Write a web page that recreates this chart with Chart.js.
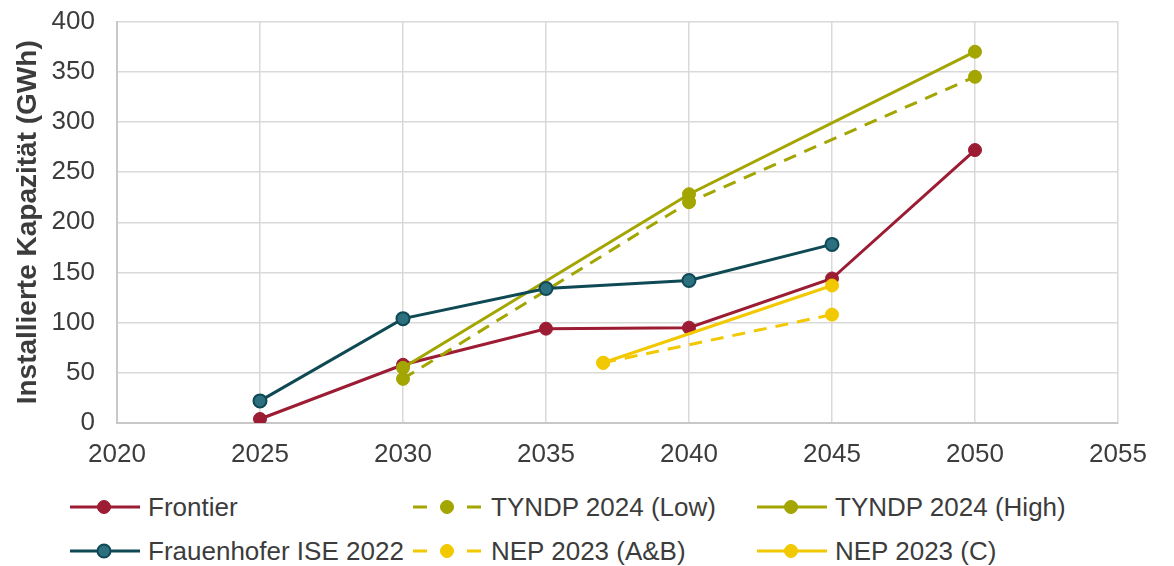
<!DOCTYPE html>
<html lang="de">
<head>
<meta charset="utf-8">
<title>Installierte Kapazität</title>
<script src="https://cdn.jsdelivr.net/npm/chart.js@4.4.1/dist/chart.umd.min.js"></script>
<style>
  html, body { margin: 0; padding: 0; background: #ffffff; }
  #wrap { position: relative; width: 1174px; height: 566px; overflow: hidden; font-family: "Liberation Sans", Arial, sans-serif; }
  #chart { position: absolute; left: 0; top: -16px; }
  .lg { position: absolute; height: 30px; display: flex; align-items: center; font-size: 26px; color: #3c3c3c; white-space: nowrap; }
  .lg svg { flex: none; }
  .lg span { margin-left: 8px; }
</style>
</head>
<body>
<div id="wrap">
  <canvas id="chart" width="1174" height="496"></canvas>
  <div id="legend"></div>
</div>
<script>
// Series values (GWh) per scenario, keyed by year
const frontierYears = [2025, 2030, 2035, 2040, 2045, 2050];
const frontierValues = [4, 58, 94, 95, 144, 272];

const fraunhoferYears = [2025, 2030, 2035, 2040, 2045];
const fraunhoferValues = [22, 104, 134, 142, 178];

const tyndpYears = [2030, 2040, 2050];
const tyndpLowValues = [44, 220, 345];
const tyndpHighValues = [55, 228, 370];

const nepYears = [2037, 2045];
const nepABValues = [60, 108];
const nepCValues = [60, 137];

const seriesLabels = [
  'Frontier',
  'TYNDP 2024 (Low)',
  'TYNDP 2024 (High)',
  'Frauenhofer ISE 2022',
  'NEP 2023 (A&B)',
  'NEP 2023 (C)'
];

const xTicks = [2020, 2025, 2030, 2035, 2040, 2045, 2050, 2055];
const yTicks = [0, 50, 100, 150, 200, 250, 300, 350, 400];

const RED = '#9C1C33';
const TEAL = '#0E4954';
const TEAL_FILL = '#2C6F7E';
const OLIVE = '#A3A500';
const YELLOW = '#F2C800';

function pts(xs, ys) { return xs.map((x, i) => ({ x: x, y: ys[i] })); }

function series(label, data, color, opts) {
  return Object.assign({
    label: label,
    data: data,
    borderColor: color,
    backgroundColor: color,
    pointBackgroundColor: color,
    pointBorderColor: color,
    borderWidth: 3,
    pointRadius: 6.5,
    pointBorderWidth: 1,
    pointHoverRadius: 6.5,
    tension: 0,
    fill: false
  }, opts || {});
}

const datasets = [
  series(seriesLabels[0], pts(frontierYears, frontierValues), RED, { order: 6 }),
  series(seriesLabels[1], pts(tyndpYears, tyndpLowValues), OLIVE, { borderDash: [13, 9], order: 5 }),
  series(seriesLabels[2], pts(tyndpYears, tyndpHighValues), OLIVE, { order: 4 }),
  series(seriesLabels[3], pts(fraunhoferYears, fraunhoferValues), TEAL, { pointBackgroundColor: TEAL_FILL, pointBorderColor: TEAL, pointBorderWidth: 2, order: 3 }),
  series(seriesLabels[4], pts(nepYears, nepABValues), YELLOW, { borderDash: [13, 9], order: 2 }),
  series(seriesLabels[5], pts(nepYears, nepCValues), YELLOW, { order: 1 })
];

const GRID = '#D9D9D9';
const TEXT = '#3c3c3c';
const FONT = '"Liberation Sans", Arial, sans-serif';

const chart = new Chart(document.getElementById('chart'), {
  type: 'line',
  data: { datasets: datasets },
  options: {
    responsive: false,
    animation: false,
    events: [],
    layout: { padding: { left: 10, right: 56, top: 5, bottom: 0 } },
    plugins: { legend: { display: false }, tooltip: { enabled: false } },
    scales: {
      x: {
        type: 'linear',
        min: xTicks[0],
        max: xTicks[xTicks.length - 1],
        afterBuildTicks: (s) => { s.ticks = xTicks.map(v => ({ value: v })); },
        ticks: {
          callback: (v) => String(v),
          color: TEXT,
          font: { family: FONT, size: 26 },
          padding: 16,
          maxRotation: 0
        },
        grid: { color: GRID, lineWidth: 1.5, drawTicks: false },
        border: { color: '#C8C8C8', width: 2 },
        afterFit: (s) => { s.height = 57; }
      },
      y: {
        min: yTicks[0],
        max: yTicks[yTicks.length - 1],
        afterBuildTicks: (s) => { s.ticks = yTicks.map(v => ({ value: v })); },
        ticks: {
          color: TEXT,
          font: { family: FONT, size: 26 },
          padding: 22
        },
        grid: { color: GRID, lineWidth: 1.5, drawTicks: false },
        border: { color: '#C8C8C8', width: 2 },
        title: {
          display: true,
          text: 'Installierte Kapazität (GWh)',
          color: TEXT,
          font: { family: FONT, size: 28, weight: 'bold' },
          padding: { top: 1, bottom: 0 }
        },
        afterFit: (s) => { s.width = 107; }
      }
    }
  }
});

// Legend laid out in three columns, two rows, from the chart's datasets
const legendCols = [70, 413, 757];
const legendRows = [507, 551];
const legendSlots = [[0, 0], [1, 0], [2, 0], [0, 1], [1, 1], [2, 1]];
const legendEl = document.getElementById('legend');
const svgNS = 'http://www.w3.org/2000/svg';

chart.data.datasets.forEach((ds, i) => {
  const [c, r] = legendSlots[i];
  const item = document.createElement('div');
  item.className = 'lg';
  item.style.left = legendCols[c] + 'px';
  item.style.top = (legendRows[r] - 15) + 'px';

  const svg = document.createElementNS(svgNS, 'svg');
  svg.setAttribute('width', '70');
  svg.setAttribute('height', '20');
  const dashed = Array.isArray(ds.borderDash) && ds.borderDash.length;
  const segments = dashed ? [[0, 14], [54, 68]] : [[0, 70]];
  segments.forEach(([a, b]) => {
    const l = document.createElementNS(svgNS, 'line');
    l.setAttribute('x1', a); l.setAttribute('x2', b);
    l.setAttribute('y1', 10); l.setAttribute('y2', 10);
    l.setAttribute('stroke', ds.borderColor);
    l.setAttribute('stroke-width', 3);
    svg.appendChild(l);
  });
  const dot = document.createElementNS(svgNS, 'circle');
  dot.setAttribute('cx', 34);
  dot.setAttribute('cy', 10);
  dot.setAttribute('r', 6.5);
  dot.setAttribute('fill', ds.pointBackgroundColor);
  dot.setAttribute('stroke', ds.pointBorderColor);
  dot.setAttribute('stroke-width', ds.pointBorderWidth);
  svg.appendChild(dot);

  const txt = document.createElement('span');
  txt.textContent = ds.label;
  item.appendChild(svg);
  item.appendChild(txt);
  legendEl.appendChild(item);
});
</script>
</body>
</html>
